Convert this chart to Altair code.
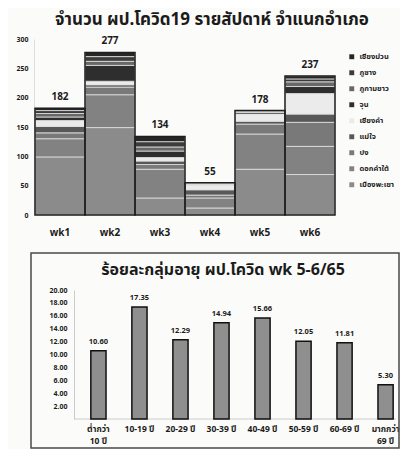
import altair as alt
import pandas as pd

# ---------------- data ----------------
weeks = ["wk1", "wk2", "wk3", "wk4", "wk5", "wk6"]
# stack order, bottom -> top
districts = ["เมืองพะเยา", "ดอกคำใต้", "ปง", "แม่ใจ", "เชียงคำ", "จุน", "ภูกามยาว", "ภูซาง", "เชียงม่วน"]
muang_phayao = [99, 149, 29, 12, 78, 69]
dok_khamtai = [31, 56, 49, 17, 60, 48]
pong = [10, 13, 8, 5, 17, 41]
mae_chai = [11, 4, 6, 9, 5, 14]
chiang_kham = [10, 6, 6, 8, 12, 35]
chun = [6, 27, 11, 1, 3, 12]
phu_kamyao = [6, 7, 7, 1, 1, 8]
phu_sang = [5, 8, 9, 1, 1, 5]
chiang_muan = [4, 7, 9, 1, 1, 5]
series = [muang_phayao, dok_khamtai, pong, mae_chai, chiang_kham, chun, phu_kamyao, phu_sang, chiang_muan]
district_colors = ["#8b8b8b", "#828282", "#797979", "#585858", "#ebebeb", "#2e2e2e", "#686868", "#3c3c3c", "#262626"]
y1_ticks = [0, 50, 100, 150, 200, 250, 300]

age_groups = ["ต่ำกว่า 10 ปี", "10-19 ปี", "20-29 ปี", "30-39 ปี", "40-49 ปี", "50-59 ปี", "60-69 ปี", "มากกว่า 69 ปี"]
age_pct = [10.60, 17.35, 12.29, 14.94, 15.66, 12.05, 11.81, 5.30]
y2_ticks = [2, 4, 6, 8, 10, 12, 14, 16, 18, 20]

# ---------------- tables ----------------
rows = []
for i, (d, vals) in enumerate(zip(districts, series)):
    for w, v in zip(weeks, vals):
        rows.append({"week": w, "district": d, "value": v, "idx": i})
df = pd.DataFrame(rows)
tot = df.groupby("week", as_index=False)["value"].sum().rename(columns={"value": "total"})

legend_order = districts[::-1]
legend_colors = district_colors[::-1]

FONT = "Noto Sans Thai, Tahoma, Noto Sans, DejaVu Sans, sans-serif"
INK = "#1b1b1b"

# ---------------- top chart ----------------
W1, H1 = 302, 176
xw = alt.X("week:N", sort=weeks, scale=alt.Scale(paddingInner=0, paddingOuter=0.02),
           axis=alt.Axis(title=None, labelAngle=0, labelFontSize=10, labelFontWeight="bold",
                         labelPadding=12, ticks=False, domain=False, labelColor=INK))
stack = alt.Chart(df).mark_bar(stroke="#e2e2e2", strokeWidth=0.8).encode(
    x=xw,
    y=alt.Y("value:Q", stack="zero", scale=alt.Scale(domain=[0, 300]),
            axis=alt.Axis(values=y1_ticks, tickCount=50, title=None, grid=False, ticks=False,
                          labelOverlap=False, labelFontSize=7, labelFontWeight="bold",
                          domainColor="#dddddd", labelPadding=6, labelColor=INK)),
    color=alt.Color("district:N", sort=legend_order,
                    scale=alt.Scale(domain=legend_order, range=legend_colors),
                    legend=alt.Legend(title=None, orient="none", legendX=314, legendY=14,
                                      symbolType="square", symbolSize=24, symbolStrokeWidth=0,
                                      labelFontSize=7.5, labelFontWeight="bold", rowPadding=7,
                                      labelColor=INK)),
    order=alt.Order("idx:Q", sort="ascending"),
)
outline = alt.Chart(tot).mark_bar(fillOpacity=0, stroke="#1e1e1e", strokeWidth=1.5).encode(
    x=alt.X("week:N", sort=weeks), y=alt.Y("total:Q"))
totals = alt.Chart(tot).mark_text(baseline="bottom", dy=-6, fontSize=10, fontWeight="bold", color=INK).encode(
    x=alt.X("week:N", sort=weeks), y=alt.Y("total:Q"), text="total:Q")
top = alt.layer(stack, outline, totals).properties(
    width=W1, height=H1,
    title=alt.TitleParams("จำนวน ผป.โควิด19 รายสัปดาห์ จำแนกอำเภอ", fontSize=17, fontWeight="bold",
                          anchor="middle", frame="group", dx=27, offset=6, color=INK))

# ---------------- bottom chart ----------------
# plot origin shared with the top chart; bars drawn in [47, 369]
W2, H2 = 362, 129
pdf = pd.DataFrame({"age": age_groups, "pct": age_pct})
one = pd.DataFrame({"k": [0]})
bx = alt.X("age:N", sort=age_groups,
           scale=alt.Scale(paddingInner=0.63, paddingOuter=0.24, range=[47, 369]),
           axis=alt.Axis(title=None, labelAngle=0, ticks=False, domain=False,
                         labelFontSize=8.5, labelFontWeight="bold", labelPadding=5, labelLineHeight=12,
                         labelColor=INK,
                         labelExpr="datum.value == 'ต่ำกว่า 10 ปี' ? ['ต่ำกว่า', '10 ปี'] : datum.value == 'มากกว่า 69 ปี' ? ['มากกว่า', '69 ปี'] : datum.value"))
by = alt.Y("pct:Q", scale=alt.Scale(domain=[0, 20]),
           axis=alt.Axis(values=y2_ticks, tickCount=50, format=".2f", title=None, grid=False,
                         ticks=False, labelOverlap=False, labelFontSize=7, labelFontWeight="bold",
                         domainColor="#cccccc", labelPadding=7, labelColor=INK, offset=-40))
bars2 = alt.Chart(pdf).mark_bar(fill="#8f8f8f", stroke="#111111", strokeWidth=1.5).encode(x=bx, y=by)
text2 = alt.Chart(pdf).mark_text(baseline="bottom", dy=-5, fontSize=7.5, fontWeight="bold", color=INK).encode(
    x=alt.X("age:N", sort=age_groups), y=alt.Y("pct:Q"), text=alt.Text("pct:Q", format=".2f"))
baseline = alt.Chart(one).mark_rule(stroke="#cccccc").encode(
    x=alt.value(40), x2=alt.value(W2), y=alt.value(H2))
title2 = alt.Chart(one).mark_text(text="ร้อยละกลุ่มอายุ ผป.โควิด wk 5-6/65", fontSize=16, fontWeight="bold",
                                  color=INK).encode(x=alt.value(189), y=alt.value(-20))
frame = alt.Chart(one).mark_rect(fillOpacity=0, stroke="#4a4a4a", strokeWidth=1.5).encode(
    x=alt.value(-3), x2=alt.value(W2 + 3), y=alt.value(-37), y2=alt.value(H2 + 29))
bottom = alt.layer(baseline, bars2, text2, title2, frame).properties(width=W2, height=H2)

chart = alt.vconcat(top, bottom, spacing=15).properties(
    padding={"left": 7, "top": 3, "right": 0, "bottom": 0},
    background="#fbfbfa",
).configure(font=FONT).configure_view(strokeWidth=0)

chart.save("out.html", embed_options={"renderer": "svg", "actions": False})
